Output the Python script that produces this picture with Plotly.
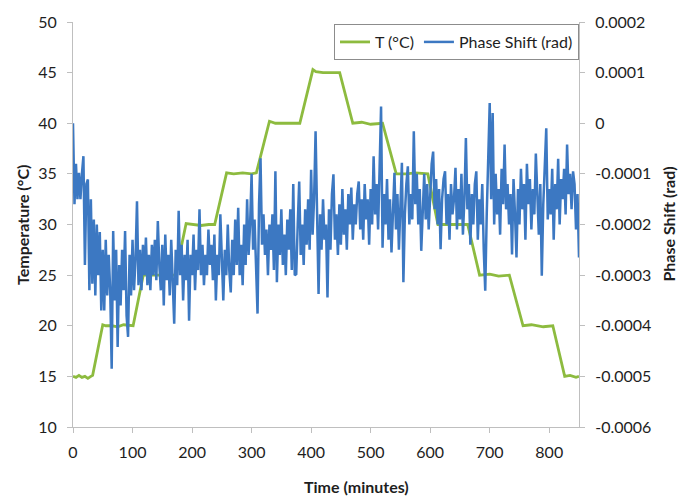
import plotly.graph_objects as go

# Temperature set-point profile (minutes, °C)
temp_time = [0, 5, 10, 15, 20, 25, 30, 33, 50, 55, 65, 75, 85, 95, 101, 118, 172, 190,
             200, 215, 228, 238, 258, 270, 285, 300, 308, 330, 340, 360, 381, 403, 408,
             420, 435, 448, 470, 485, 500, 520, 543, 560, 575, 596, 613, 630, 650, 663,
             683, 700, 715, 733, 756, 770, 790, 806, 826, 835, 845, 850]
temp_c = [15.0, 14.9, 15.1, 14.9, 15.0, 14.8, 15.0, 15.1, 20.1, 20.0, 20.0, 19.9, 20.1, 20.0,
          20.0, 25.0, 25.0, 30.1, 30.0, 29.9, 30.0, 30.0, 35.1, 35.0, 35.1, 35.0, 35.1, 40.2,
          40.0, 40.0, 40.0, 45.3, 45.1, 45.0, 45.0, 45.0, 40.0, 40.1, 39.9, 40.0, 35.0, 35.0,
          35.1, 35.0, 30.0, 30.0, 30.0, 30.0, 25.0, 25.1, 24.9, 25.0, 20.0, 20.1, 19.9, 20.0,
          15.0, 15.1, 14.9, 15.0]

# Phase shift, sampled every 2.5 minutes (micro-radians)
sample_step_min = 2.5
phase_urad = [
    0, -160, -80, -150, -98, -150, -100, -65, -280, -120,
    -111, -330, -150, -317, -190, -340, -200, -300, -215, -370,
    -250, -370, -230, -340, -260, -330, -485, -213, -350, -250,
    -442, -280, -360, -250, -330, -213, -380, -422, -260, -340,
    -230, -330, -270, -154, -320, -250, -330, -240, -300, -226,
    -320, -260, -330, -240, -300, -230, -310, -193, -280, -330,
    -240, -360, -220, -310, -260, -340, -230, -300, -396, -250,
    -320, -173, -300, -240, -350, -260, -310, -230, -390, -260,
    -300, -220, -330, -250, -290, -170, -300, -240, -320, -260,
    -300, -210, -280, -240, -310, -220, -350, -260, -300, -180,
    -260, -350, -250, -300, -200, -290, -334, -230, -300, -190,
    -280, -167, -300, -240, -320, -200, -280, -150, -260, -200,
    -100, -250, -190, -280, -376, -160, -69, -240, -180, -260,
    -210, -300, -200, -250, -180, -290, -95, -314, -200, -260,
    -170, -280, -220, -300, -190, -250, -170, -290, -120, -300,
    -298, -200, -115, -260, -200, -280, -170, -240, -150, -250,
    -92, -220, -150, -16, -200, -337, -180, -250, -150, -230,
    -200, -344, -170, -250, -140, -101, -230, -180, -260, -160,
    -240, -130, -220, -170, -250, -140, -200, -127, -230, -160,
    -200, -140, -115, -210, -150, -230, -120, -190, -150, -240,
    -130, -200, -65, -180, -120, -210, -90, 33, -246, -140,
    -200, -110, -230, -150, -255, -180, -98, -210, -140, -250,
    -160, -78, -314, -180, -120, -85, -200, -140, -190, -16,
    -160, -100, -200, -130, -252, -150, -100, -190, -120, -210,
    -130, -80, -56, -170, -110, -200, -130, -249, -150, -110,
    -95, -200, -140, -230, -120, -180, -150, -88, -210, -130,
    -190, -100, -220, -150, -29, -170, -120, -240, -140, -200,
    -120, -95, -230, -150, -200, -120, -250, -331, -180, -60,
    40, -150, 20, -200, -100, -180, -130, -220, -90, -160,
    -42, -170, -120, -200, -140, -259, -110, -180, -265, -130,
    -200, -90, -170, -120, -230, -80, -160, -110, -210, -130,
    -180, -60, -150, -220, -120, -301, -160, -100, -10, -190,
    -130, -180, -90, -230, -120, -170, -70, -200, -110, -150,
    -90, -180, -42, -140, -100, -170, -95, -120, -210, -140, -265,
]
phase_time = [i * sample_step_min for i in range(len(phase_urad))]
phase_rad = [v * 1e-6 for v in phase_urad]

GREEN = "#8DBB3F"
BLUE = "#3C78C2"
AXIS_GREY = "#BFBFBF"
TEXT = "#1E1E1E"
FONT = "Lato, 'Open Sans', sans-serif"

fig = go.Figure()
fig.add_trace(go.Scatter(x=temp_time, y=temp_c, mode="lines", name="T (°C)",
                         line=dict(color=GREEN, width=2.8), yaxis="y"))
fig.add_trace(go.Scatter(x=phase_time, y=phase_rad, mode="lines", name="Phase Shift (rad)",
                         line=dict(color=BLUE, width=2.5), yaxis="y2"))

axis_common = dict(showgrid=False, zeroline=False, showline=True, linecolor=AXIS_GREY,
                   linewidth=1, ticks="outside", tickcolor=AXIS_GREY, ticklen=5,
                   tickfont=dict(family=FONT, size=16, color=TEXT))

fig.update_layout(
    width=686, height=496,
    margin=dict(l=73, r=107, t=20, b=69),
    paper_bgcolor="white", plot_bgcolor="white",
    font=dict(family=FONT, size=16, color=TEXT),
    xaxis=dict(range=[0, 850], tickvals=[0, 100, 200, 300, 400, 500, 600, 700, 800],
               ticklabelstandoff=6, **axis_common),
    yaxis=dict(range=[10, 50], tickvals=[10, 15, 20, 25, 30, 35, 40, 45, 50],
               ticklabelstandoff=7, **axis_common),
    yaxis2=dict(range=[-0.0006, 0.0002], overlaying="y", side="right",
                tickvals=[-0.0006, -0.0005, -0.0004, -0.0003, -0.0002, -0.0001, 0, 0.0001, 0.0002],
                ticktext=["-0.0006", "-0.0005", "-0.0004", "-0.0003", "-0.0002", "-0.0001",
                          "0", "0.0001", "0.0002"],
                ticklabelstandoff=7, **axis_common),
    legend=dict(orientation="h", x=1, xanchor="right", y=0.995, yanchor="top",
                bgcolor="white", bordercolor="#8C8C8C", borderwidth=1,
                font=dict(family=FONT, size=16, color=TEXT), itemwidth=30,
                tracegroupgap=0),
    showlegend=True,
    annotations=[
        dict(text="<b>Time (minutes)</b>", xref="paper", yref="paper", x=0.56, y=-0.148,
             xanchor="center", yanchor="middle", showarrow=False,
             font=dict(family=FONT, size=16, color=TEXT)),
        dict(text="<b>Temperature (°C)</b>", xref="paper", yref="paper", x=-0.10, y=0.5,
             xanchor="center", yanchor="middle", textangle=-90, showarrow=False,
             font=dict(family=FONT, size=16, color=TEXT)),
        dict(text="<b>Phase Shift (rad)</b>", xref="paper", yref="paper", x=1.176, y=0.5,
             xanchor="center", yanchor="middle", textangle=-90, showarrow=False,
             font=dict(family=FONT, size=16, color=TEXT)),
    ],
)

fig.write_html("out.html")
